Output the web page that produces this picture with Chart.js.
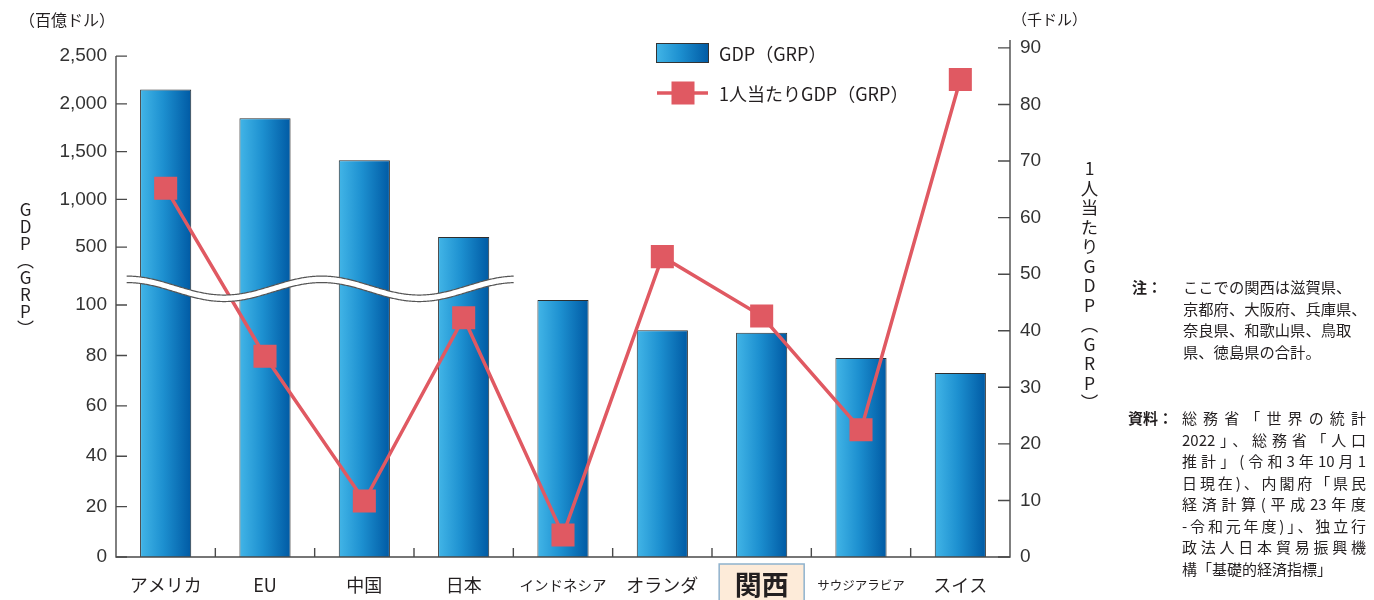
<!DOCTYPE html>
<html><head><meta charset="utf-8">
<script src="https://cdn.jsdelivr.net/npm/chart.js@4/dist/chart.umd.min.js"></script>
<style>
html,body{margin:0;padding:0;background:#fff;}
#wrap{position:relative;width:1374px;height:600px;overflow:hidden;font-family:"Noto Sans CJK JP","Noto Sans",sans-serif;color:#231f20;}
canvas{position:absolute;left:0;top:0;}
.t{position:absolute;white-space:nowrap;}
.v{position:absolute;writing-mode:vertical-rl;text-orientation:upright;white-space:nowrap;}
.jl{width:184px;text-align:justify;text-align-last:justify;white-space:nowrap;}
</style></head><body>
<div id="wrap">
<canvas id="c" width="1374" height="600"></canvas>
<div class="t" style="left:19px;top:9px;font-size:16px;line-height:20px;">（百億ドル）</div>
<div class="t" style="left:1012px;top:9px;font-size:15px;line-height:20px;">（千ドル）</div>
<div class="v" style="left:16px;top:201px;font-size:17px;line-height:18px;">GDP（GRP）</div>
<div class="v" style="left:1080px;top:160px;font-size:17.5px;line-height:18px;letter-spacing:2px;">1人当たりGDP（GRP）</div>
<div class="t" style="left:1132px;top:276px;font-size:15px;line-height:21.5px;font-weight:bold;">注：</div>
<div class="t" style="left:1183px;top:276px;font-size:15.3px;line-height:21.5px;">ここでの関西は滋賀県、<br>京都府、大阪府、兵庫県、<br>奈良県、和歌山県、鳥取<br>県、徳島県の合計。</div>
<div class="t" style="left:1128px;top:407px;font-size:15px;line-height:21.5px;font-weight:bold;">資料：</div>
<div class="t" style="left:1182px;top:407px;font-size:15px;line-height:21.5px;">
<div class="jl">総務省「世界の統計</div>
<div class="jl">2022」、総務省「人口</div>
<div class="jl">推計」(令和3年10月1</div>
<div class="jl">日現在)、内閣府「県民</div>
<div class="jl">経済計算(平成23年度</div>
<div class="jl">-令和元年度)」、独立行</div>
<div class="jl">政法人日本貿易振興機</div>
<div>構「基礎的経済指標」</div>
</div>
</div>
<script>
// ---- data ----
const categories = ['アメリカ','EU','中国','日本','インドネシア','オランダ','関西','サウジアラビア','スイス'];
const gdpValues = [2150, 1850, 1410, 605, 102, 90, 89, 79, 73];           // 百億ドル
const perCapitaValues = [65.2, 35.5, 9.9, 42.3, 3.9, 53.1, 42.6, 22.5, 84.4]; // 千ドル
const leftTickValues = [0, 20, 40, 60, 80, 100, 500, 1000, 1500, 2000, 2500];
const rightTickValues = [0, 10, 20, 30, 40, 50, 60, 70, 80, 90];
const seriesNames = ['GDP（GRP）', '1人当たりGDP（GRP）'];

// broken axis: lower part 0-~300 linear, upper part 500-2500 compressed
function toAxis(v){ return v <= 300 ? v : 123 + (v - 500) * 0.0379; }

const RED = '#e05962';
function barGradient(c, x0, x1){
  const g = c.createLinearGradient(x0, 0, x1, 0);
  g.addColorStop(0, '#42b5e7');
  g.addColorStop(0.45, '#1d90d0');
  g.addColorStop(1, '#005aa4');
  return g;
}

const decor = {
  id: 'decor',
  beforeDraw(chart){
    const c = chart.ctx, xs = chart.scales.x;
    const cx = xs.getPixelForValue(6);
    c.save();
    c.fillStyle = '#fdebd9';
    c.strokeStyle = '#8fb2cd';
    c.lineWidth = 1.5;
    c.fillRect(cx - 42.5, 564, 85, 40);
    c.strokeRect(cx - 42.5, 564, 85, 40);
    c.restore();
  },
  afterDatasetsDraw(chart){
    const c = chart.ctx, xs = chart.scales.x, y = chart.scales.y, y2 = chart.scales.y2;
    const a = chart.chartArea;
    c.save();
    // break band
    const x0 = xs.getPixelForValue(0) - 39, x1 = xs.getPixelForValue(3) + 50;
    const yc = y.getPixelForValue(toAxis(100)) - 19.5;
    const A = 9.5, P = 195, th = 6.5;
    const top = x => yc - A * Math.cos(2 * Math.PI * (x - x0) / P);
    c.beginPath();
    for (let x = x0; x <= x1; x += 1) c.lineTo(x, top(x));
    for (let x = x1; x >= x0; x -= 1) c.lineTo(x, top(x) + th);
    c.closePath();
    c.fillStyle = '#fff';
    c.fill();
    c.strokeStyle = '#555';
    c.lineWidth = 1.2;
    c.beginPath();
    for (let x = x0; x <= x1; x += 1) c.lineTo(x, top(x));
    c.stroke();
    c.beginPath();
    for (let x = x0; x <= x1; x += 1) c.lineTo(x, top(x) + th);
    c.stroke();
    // axis lines
    c.strokeStyle = '#4a4a4a';
    c.lineWidth = 1.4;
    const yTop = y.getPixelForValue(toAxis(2500));
    c.beginPath();
    c.moveTo(a.left, yTop); c.lineTo(a.left, a.bottom); c.lineTo(a.right, a.bottom); c.lineTo(a.right, a.top);
    c.stroke();
    // inward ticks
    c.beginPath();
    y.ticks.forEach(t => { const p = y.getPixelForValue(t.value); c.moveTo(a.left, p); c.lineTo(a.left + 11, p); });
    y2.ticks.forEach(t => { const p = y2.getPixelForValue(t.value); c.moveTo(a.right, p); c.lineTo(a.right - 12, p); });
    for (let i = 1; i < categories.length; i++) {
      const p = (xs.getPixelForValue(i - 1) + xs.getPixelForValue(i)) / 2;
      c.moveTo(p, a.bottom); c.lineTo(p, a.bottom - 9);
    }
    c.stroke();
    c.restore();
  },
  afterDraw(chart){
    const c = chart.ctx;
    c.save();
    // legend
    c.fillStyle = barGradient(c, 656, 709);
    c.fillRect(656, 43, 53, 20);
    c.strokeStyle = '#333'; c.lineWidth = 1;
    c.strokeRect(656.5, 43.5, 52, 19);
    c.strokeStyle = RED; c.lineWidth = 3.5;
    c.beginPath(); c.moveTo(657, 93); c.lineTo(708, 93); c.stroke();
    c.fillStyle = RED;
    c.fillRect(683 - 11.5, 93 - 11.5, 23, 23);
    c.fillStyle = '#231f20';
    c.font = '18px "Noto Sans CJK JP"';
    c.textBaseline = 'middle';
    c.fillText(seriesNames[0], 719, 54);
    c.fillText(seriesNames[1], 719, 94);
    c.restore();
  }
};

Chart.defaults.font.family = '"Noto Sans CJK JP", "Liberation Sans", sans-serif';
Chart.defaults.color = '#231f20';

new Chart(document.getElementById('c'), {
  data: {
    labels: categories,
    datasets: [
      {
        type: 'line',
        label: seriesNames[1],
        data: perCapitaValues,
        yAxisID: 'y2',
        order: 0,
        borderColor: RED,
        borderWidth: 3.5,
        tension: 0,
        pointStyle: 'rect',
        pointRadius: 16.3,
        pointBackgroundColor: RED,
        pointBorderColor: RED,
        pointBorderWidth: 0
      },
      {
        type: 'bar',
        label: seriesNames[0],
        data: gdpValues.map(toAxis),
        yAxisID: 'y',
        order: 1,
        barPercentage: 0.515,
        categoryPercentage: 1,
        borderColor: '#2e2e2e',
        borderWidth: 1,
        backgroundColor: ctx => {
          const ch = ctx.chart;
          if (!ch.chartArea || ctx.dataIndex === undefined) return '#1d90d0';
          const x = ch.scales.x.getPixelForValue(ctx.dataIndex);
          return barGradient(ch.ctx, x - 25.5, x + 25.5);
        }
      }
    ]
  },
  options: {
    responsive: false,
    animation: false,
    layout: { padding: { top: 40, left: 0, right: 0, bottom: 0 } },
    plugins: { legend: { display: false }, tooltip: { enabled: false } },
    scales: {
      x: {
        type: 'category',
        offset: true,
        grid: { display: false, drawTicks: false },
        border: { display: false },
        afterFit: s => { s.height = 43; },
        ticks: {
          autoSkip: false,
          maxRotation: 0,
          padding: 12,
          crossAlign: 'near',
          color: '#231f20',
          font: ctx => {
            const i = ctx.index;
            if (i === 6) return { size: 27, weight: 'bold', lineHeight: '32px' };
            if (i === 4) return { size: 14.5, lineHeight: '32px' };
            if (i === 7) return { size: 12.5, lineHeight: '32px' };
            return { size: 18, lineHeight: '32px' };
          }
        }
      },
      y: {
        type: 'linear',
        position: 'left',
        min: 0,
        max: 205.2,
        grid: { display: false, drawTicks: false },
        border: { display: false },
        afterFit: s => { s.width = 116; },
        afterBuildTicks: s => { s.ticks = leftTickValues.map(v => ({ value: toAxis(v) })); },
        ticks: {
          padding: 9,
          color: '#333',
          font: { family: '"Liberation Sans", Arial, sans-serif', size: 19 },
          callback: (val) => {
            const t = leftTickValues.find(v => Math.abs(toAxis(v) - val) < 1e-6);
            return t === undefined ? '' : t.toLocaleString('en-US');
          }
        }
      },
      y2: {
        type: 'linear',
        position: 'right',
        min: 0,
        max: 91.4,
        grid: { display: false, drawTicks: false },
        border: { display: false },
        afterFit: s => { s.width = 364; },
        afterBuildTicks: s => { s.ticks = rightTickValues.map(v => ({ value: v })); },
        ticks: {
          padding: 10,
          color: '#333',
          font: { family: '"Liberation Sans", Arial, sans-serif', size: 19 }
        }
      }
    }
  },
  plugins: [decor]
});
</script>
</body></html>
